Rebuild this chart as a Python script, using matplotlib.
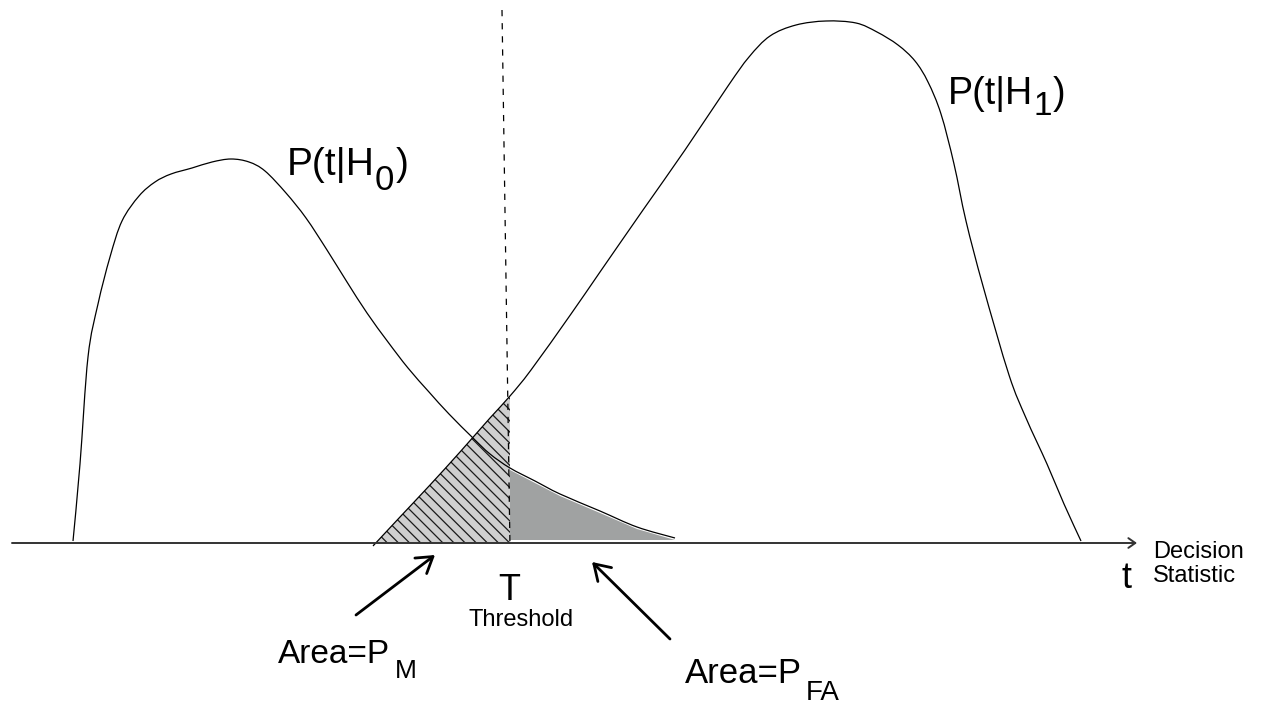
import numpy as np
import matplotlib.pyplot as plt
from matplotlib.path import Path
from matplotlib.patches import PathPatch

plt.rcParams['font.family'] = ['Liberation Sans', 'DejaVu Sans']
plt.rcParams['hatch.linewidth'] = 0.9

# decision statistic (horizontal position) and density height above the axis
h0_t = [73, 80, 88, 98, 110, 122, 139, 155, 171, 192, 212, 231, 249, 265, 286,
        306, 327, 347, 367, 388, 408, 429, 449, 473, 490, 510, 535, 560, 600,
        637, 675]
h0_p = [2, 79, 186, 239, 286, 322, 347, 361, 369, 375, 381, 384, 381, 372, 350,
        325, 293, 261, 230, 201, 175, 151, 129, 105, 89, 75, 62, 49, 32,
        16, 5]

h1_t = [373, 400, 430, 460, 490, 510, 531, 571, 600, 643, 685, 728, 749, 770,
        796, 826, 856, 877, 898, 915, 928, 941, 954, 966, 983, 1009, 1026, 1047,
        1064, 1081]
h1_p = [-3, 26, 58, 91, 125, 147, 173, 229, 271, 333, 393, 457, 486, 507,
        518, 522, 520, 511, 498, 482, 461, 429, 379, 322, 257, 168, 125, 79,
        39, 2]

threshold = 510

h0_t, h0_p = np.array(h0_t), np.array(h0_p)
h1_t, h1_p = np.array(h1_t), np.array(h1_p)


def smooth_path(x, y):
    # smooth curve through the read points (Catmull-Rom as cubic Bezier)
    pts = np.column_stack([x, y]).astype(float)
    ext = np.vstack([pts[0], pts, pts[-1]])
    verts = [pts[0]]
    codes = [Path.MOVETO]
    for i in range(1, len(ext) - 2):
        p0, p1, p2, p3 = ext[i - 1], ext[i], ext[i + 1], ext[i + 2]
        verts += [p1 + (p2 - p0) / 6, p2 - (p3 - p1) / 6, p2]
        codes += [Path.CURVE4] * 3
    return Path(verts, codes)


fig = plt.figure(figsize=(12.68, 7.06), dpi=100)
ax = fig.add_axes([0, 0, 1, 1])
ax.set_xlim(0, 1268)
ax.set_ylim(-163, 543)
ax.axis('off')

# shaded areas
m = h1_t <= threshold
ax.fill_between(h1_t[m], 0, h1_p[m], facecolor='#cfcfcf', edgecolor='#1a1a1a',
                hatch='\\\\\\', linewidth=0, zorder=1)
m = h0_t >= threshold
ax.fill_between(h0_t[m], 3, h0_p[m] - 2, facecolor='#a0a2a2', linewidth=0,
                zorder=1)

# densities
for x, y in [(h0_t, h0_p), (h1_t, h1_p)]:
    ax.add_patch(PathPatch(smooth_path(x, y), facecolor='none',
                           edgecolor='black', lw=0.9, zorder=3))

# threshold line
ax.plot([502, threshold], [533, -5], color='black', lw=0.9,
        linestyle=(0, (5, 5.5)), zorder=4)

# decision statistic axis
ax.annotate('', xy=(1137, 0), xytext=(12, 0),
            arrowprops=dict(arrowstyle='->,head_length=0.5,head_width=0.35',
                            color='#333333', lw=1.4, shrinkA=0, shrinkB=0))


def piece(prev, s, y, size, dx=0):
    return ax.annotate(s, xy=(1, y), xycoords=(prev, 'data'), xytext=(dx, 0),
                       textcoords='offset pixels', fontsize=size,
                       ha='left', va='baseline')


# P(t|H0)
t1 = ax.text(287, 368, 'P(t|H', fontsize=28, va='baseline')
t2 = piece(t1, '0', 353, 25)
piece(t2, ')', 368, 28, 1)

# P(t|H1)
t1 = ax.text(948, 439, 'P(t|H', fontsize=27, va='baseline')
t2 = piece(t1, '1', 428, 24)
piece(t2, ')', 439, 27, 1)

# area labels
t1 = ax.text(278, -120, 'Area=P', fontsize=24, va='baseline')
piece(t1, 'M', -135, 19, 5)
t1 = ax.text(685, -140, 'Area=P', fontsize=25, va='baseline')
piece(t1, 'FA', -157, 20, 4)

ax.text(509, -57, 'T', fontsize=26, ha='center', va='baseline')
ax.text(521, -83, 'Threshold', fontsize=17, ha='center', va='baseline')
ax.text(1126, -45, 't', fontsize=26, ha='center', va='baseline')
ax.text(1153, -15, 'Decision', fontsize=17, va='baseline')
ax.text(1153, -39, 'Statistic', fontsize=17, va='baseline')

# pointer arrows
arrow = dict(arrowstyle='->,head_length=0.55,head_width=0.35', color='black',
             lw=2, shrinkA=0, shrinkB=0, mutation_scale=20)
ax.annotate('', xy=(435, -12), xytext=(356, -72), arrowprops=arrow)
ax.annotate('', xy=(592, -19), xytext=(670, -96), arrowprops=arrow)

fig.savefig('out.png', dpi=100)
